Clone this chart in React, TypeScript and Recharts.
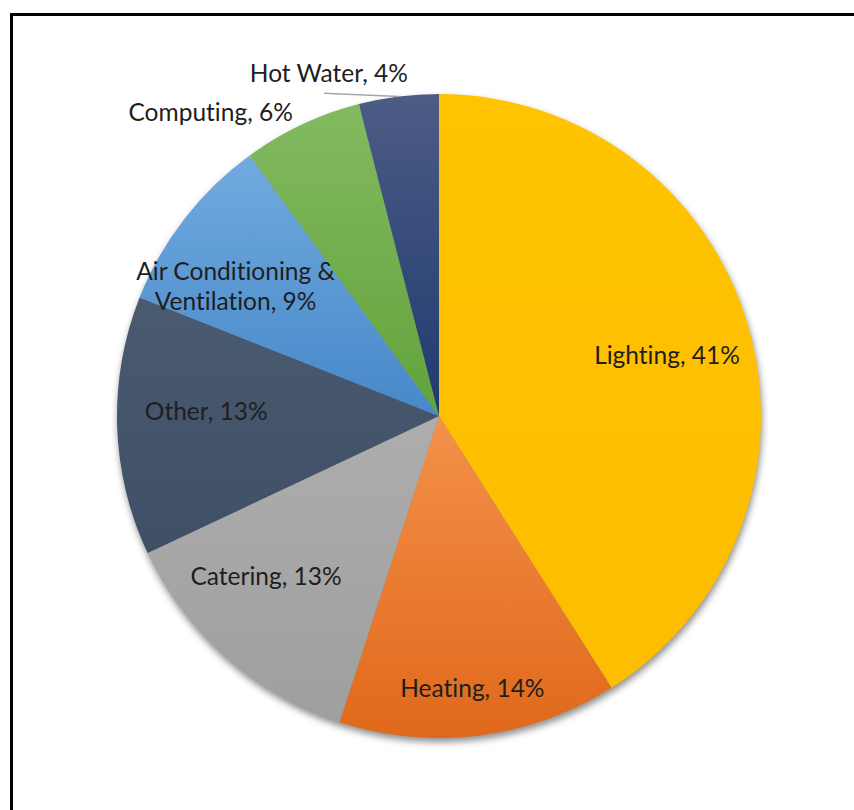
import React from "react";
import { PieChart, Pie, Cell, Sector } from "recharts";

const categories = [
  "Lighting",
  "Heating",
  "Catering",
  "Other",
  "Air Conditioning & Ventilation",
  "Computing",
  "Hot Water",
];
const shares = [41, 14, 13, 13, 9, 6, 4];

const gradientTop = ["#FFC300", "#F4914B", "#ADADAD", "#4A5A71", "#71AADF", "#82BA60", "#4C5C85"];
const gradientBottom = ["#FDBD00", "#E0681A", "#9F9F9F", "#3F4F65", "#4688C9", "#62A33A", "#1F3A70"];

// label placement (radius as fraction of outer radius, angular shift in degrees)
const labelRadius = [0.733, 0.851, 0.732, 0.723, 0.749, 1.181, 1.119];
const labelShift = [-1.2, -0.2, -5.8, -3, 5.3, 11.7, 10.6];

const data = categories.map((name, i) => ({ name, value: shares[i] }));
const total = shares.reduce((a, b) => a + b, 0);
const shadowData = [{ name: "shadow", value: total }];

const RAD = Math.PI / 180;
const polar = (cx: number, cy: number, r: number, angle: number) => ({
  x: cx + r * Math.cos(-angle * RAD),
  y: cy + r * Math.sin(-angle * RAD),
});

const FONT = "Lato, 'Liberation Sans', sans-serif";
const FONT_SIZE = 24.5;

const renderLabel = (props: any) => {
  const { cx, cy, midAngle, outerRadius, index, name, value } = props;
  const p = polar(cx, cy, outerRadius * labelRadius[index], midAngle + labelShift[index]);
  const text = `${name}, ${value}%`;
  const lines = text.includes("& ") ? [text.slice(0, text.indexOf("& ") + 1), text.slice(text.indexOf("& ") + 2)] : [text];
  const lineH = 30;
  const startY = p.y - ((lines.length - 1) * lineH) / 2;
  let leader = null;
  if (labelRadius[index] > 1 && index === categories.length - 1) {
    const a = polar(cx, cy, outerRadius, midAngle);
    const b = polar(cx, cy, outerRadius * 1.064, midAngle + 12.4);
    leader = <line x1={a.x} y1={a.y} x2={b.x} y2={b.y} stroke="#A6A6A6" strokeWidth={1.5} />;
  }
  return (
    <g key={`lbl-${index}`}>
      {leader}
      <text
        x={p.x}
        y={startY}
        textAnchor="middle"
        fill="#1E1E1E"
        fontFamily={FONT}
        fontSize={FONT_SIZE}
        style={{ fontVariantLigatures: "none" }}
      >
        {lines.map((l, i) => (
          <tspan key={i} x={p.x} y={startY + i * lineH} dy="0.36em">
            {l}
          </tspan>
        ))}
      </text>
    </g>
  );
};

const shadowShape = (props: any) => (
  <g filter="url(#pieShadow)">
    <Sector {...props} fill="#000" fillOpacity={0.45} stroke="none" />
  </g>
);

export default function App() {
  return (
    <div
      style={{
        position: "absolute",
        left: 0,
        top: 0,
        width: 854,
        height: 810,
        overflow: "hidden",
        background: "#fff",
      }}
    >
      <div
        style={{
          position: "absolute",
          left: 10,
          top: 13,
          width: 1000,
          height: 1000,
          borderLeft: "3px solid #000",
          borderTop: "3px solid #000",
          boxShadow: "1px 1px 1px rgba(0,0,0,0.35)",
        }}
      />
      <div style={{ position: "absolute", left: 0, top: 0 }}>
        <PieChart width={854} height={810} margin={{ top: 0, right: 0, bottom: 0, left: 0 }}>
          <defs>
            {categories.map((c, i) => (
              <linearGradient key={c} id={`grad${i}`} x1="0" y1="0" x2="0" y2="1">
                <stop offset="0%" stopColor={gradientTop[i]} />
                <stop offset="100%" stopColor={gradientBottom[i]} />
              </linearGradient>
            ))}
            <filter id="pieShadow" x="-10%" y="-10%" width="120%" height="125%">
              <feGaussianBlur in="SourceGraphic" stdDeviation="3.5" result="b" />
              <feOffset in="b" dx="1" dy="4" />
            </filter>
          </defs>
          <Pie
            data={shadowData}
            dataKey="value"
            cx={439}
            cy={416}
            outerRadius={322}
            startAngle={90}
            endAngle={-270}
            stroke="none"
            isAnimationActive={false}
            shape={shadowShape}
            label={false}
            labelLine={false}
          />
          <Pie
            data={data}
            dataKey="value"
            nameKey="name"
            cx={439}
            cy={416}
            outerRadius={322}
            startAngle={90}
            endAngle={-270}
            stroke="none"
            isAnimationActive={false}
            label={renderLabel}
            labelLine={false}
          >
            {data.map((d, i) => (
              <Cell key={d.name} fill={`url(#grad${i})`} stroke="none" />
            ))}
          </Pie>
        </PieChart>
      </div>
    </div>
  );
}
